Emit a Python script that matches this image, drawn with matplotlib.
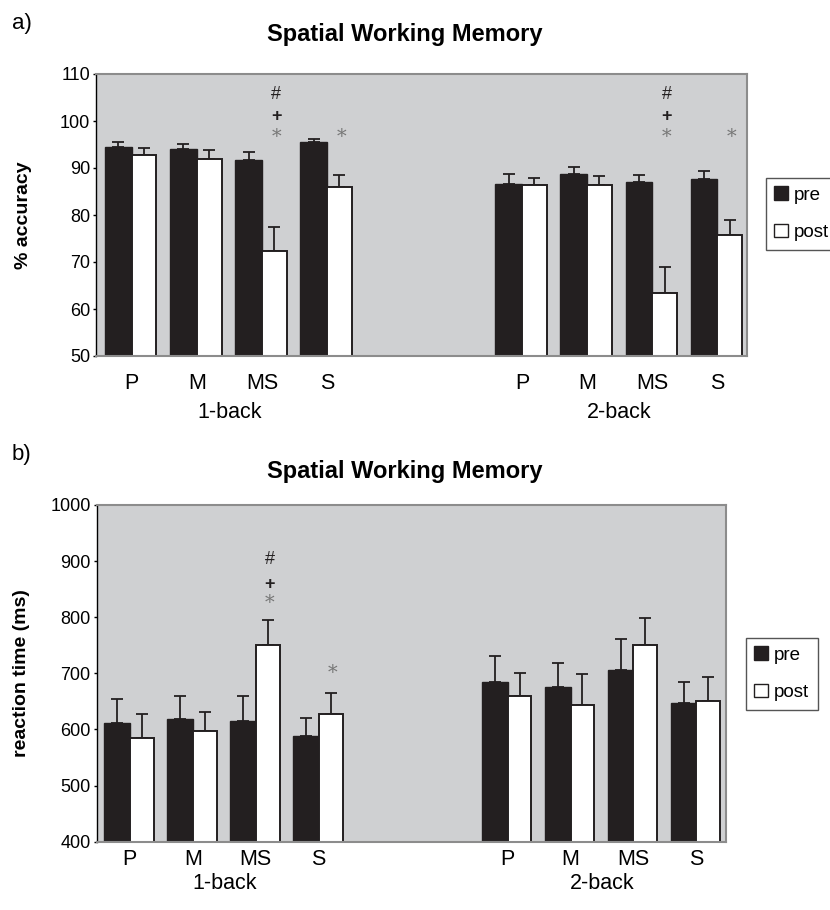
import numpy as np
import matplotlib
matplotlib.use('Agg')
import matplotlib.pyplot as plt
from matplotlib.patches import Patch
from matplotlib.transforms import blended_transform_factory

plt.rcParams['font.family'] = ['Liberation Sans', 'DejaVu Sans']

# data
groups = ['P', 'M', 'MS', 'S']
blocks = ['1-back', '2-back']

acc_pre = [94.4, 94.0, 91.6, 95.6, 86.7, 88.7, 87.1, 87.6]
acc_pre_err = [1.1, 1.1, 1.9, 0.6, 2.0, 1.6, 1.5, 1.8]
acc_post = [92.7, 91.9, 72.3, 85.9, 86.3, 86.3, 63.5, 75.8]
acc_post_err = [1.6, 1.9, 5.2, 2.7, 1.6, 1.9, 5.5, 3.2]

rt_pre = [612, 618, 615, 588, 685, 675, 706, 648]
rt_pre_err = [43, 42, 45, 32, 46, 43, 56, 36]
rt_post = [584, 598, 751, 628, 660, 644, 751, 651]
rt_post_err = [43, 33, 44, 37, 41, 54, 48, 43]

# significance marks: (bar index, [(symbol, y)])
acc_marks = [(2, [('#', 105.7), ('+', 101.0), ('*', 96.7)]),
             (3, [('*', 96.7)]),
             (6, [('#', 105.7), ('+', 101.0), ('*', 96.7)]),
             (7, [('*', 96.7)])]
rt_marks = [(2, [('#', 902), ('+', 859), ('*', 825)]),
            (3, [('*', 700)])]

pos = np.array([0, 1, 2, 3, 6, 7, 8, 9])

W, H = 830, 910
fig = plt.figure(figsize=(W / 100, H / 100), dpi=100)
BG = '#cfd0d2'
DARK = '#231f20'
EDGE = '#8c8c8c'


def px_axes(l, t, r, b):
    return fig.add_axes([l / W, 1 - b / H, (r - l) / W, (b - t) / H])


def draw_panel(ax, pre, pre_err, post, post_err, marks, ylim, yticks, ylabel, xlim,
               leg_xy, cat_pad, grp_off, ylab_x):
    ax.set_facecolor(BG)
    ax.bar(pos - 0.205, pre, width=0.41, color=DARK, edgecolor=DARK, linewidth=1, zorder=2)
    ax.bar(pos + 0.19, post, width=0.38, color='white', edgecolor=DARK, linewidth=1.4, zorder=2)
    ax.errorbar(pos - 0.205, pre, yerr=[np.zeros(len(pre)), pre_err], fmt='none',
                ecolor=DARK, elinewidth=1.3, capsize=4, capthick=1.3, zorder=1)
    ax.errorbar(pos + 0.19, post, yerr=[np.zeros(len(post)), post_err], fmt='none',
                ecolor=DARK, elinewidth=1.3, capsize=4, capthick=1.3, zorder=1)
    for i, syms in marks:
        for s, y in syms:
            if s == '*':
                ax.text(pos[i] + 0.22, y, '*', ha='center', va='center', fontsize=14,
                        color='#777777', family='DejaVu Serif')
            else:
                ax.text(pos[i] + 0.22, y, s, ha='center', va='center', fontsize=13,
                        color=DARK, fontweight='bold' if s == '+' else 'normal')
    ax.set_ylim(*ylim)
    ax.set_xlim(*xlim)
    ax.set_yticks(yticks)
    ax.tick_params(axis='y', direction='out', length=2.5, width=1, labelsize=13, pad=1.8)
    ax.set_xticks(pos)
    ax.set_xticklabels(groups * 2)
    ax.tick_params(axis='x', length=0, labelsize=15.5, pad=cat_pad)
    for sp in ['top', 'right', 'bottom']:
        ax.spines[sp].set_color(EDGE)
        ax.spines[sp].set_linewidth(1.5)
    ax.spines['left'].set_color('black')
    ax.spines['left'].set_linewidth(1)
    ax.set_ylabel(ylabel, fontsize=14, fontweight='bold')
    ax.yaxis.set_label_coords(ylab_x, 0.5)
    ax.yaxis.label.set_va('center')
    tr = blended_transform_factory(ax.transData, ax.transAxes)
    for cx, name in zip([1.5, 7.5], blocks):
        ax.annotate(name, xy=(cx, 0), xycoords=tr, xytext=(0, -grp_off),
                    textcoords='offset pixels', ha='center', va='center', fontsize=15.5)
    handles = [Patch(facecolor=DARK, edgecolor=DARK), Patch(facecolor='white', edgecolor=DARK)]
    ax.legend(handles, ['pre', 'post'], loc='upper left',
              bbox_to_anchor=(leg_xy[0] / W, 1 - leg_xy[1] / H), bbox_transform=fig.transFigure,
              fancybox=False, edgecolor='#555555', framealpha=1, fontsize=13.5,
              handlelength=0.7, handleheight=0.7, handletextpad=0.35,
              labelspacing=1.1, borderpad=0.45, borderaxespad=0)


ax1 = px_axes(96, 74, 746.5, 356)
draw_panel(ax1, acc_pre, acc_pre_err, acc_post, acc_post_err, acc_marks,
           (50, 110), range(50, 111, 10), '% accuracy', (-0.55, 9.45), (766, 178),
           cat_pad=12, grp_off=57, ylab_x=(24 - 96) / 650.5)

ax2 = px_axes(96.5, 505, 726, 841.7)
draw_panel(ax2, rt_pre, rt_pre_err, rt_post, rt_post_err, rt_marks,
           (400, 1000), range(400, 1001, 100), 'reaction time (ms)', (-0.53, 9.47), (746, 638),
           cat_pad=5, grp_off=42, ylab_x=(22 - 96.5) / 629.5)

fig.text(405 / W, 1 - 41 / H, 'Spatial Working Memory', ha='center', va='baseline',
         fontsize=17, fontweight='bold')
fig.text(405 / W, 1 - 478 / H, 'Spatial Working Memory', ha='center', va='baseline',
         fontsize=17, fontweight='bold')
fig.text(12 / W, 1 - 29 / H, 'a)', ha='left', va='baseline', fontsize=16)
fig.text(12 / W, 1 - 460 / H, 'b)', ha='left', va='baseline', fontsize=16)

fig.savefig('out.png', dpi=100, facecolor='white')
